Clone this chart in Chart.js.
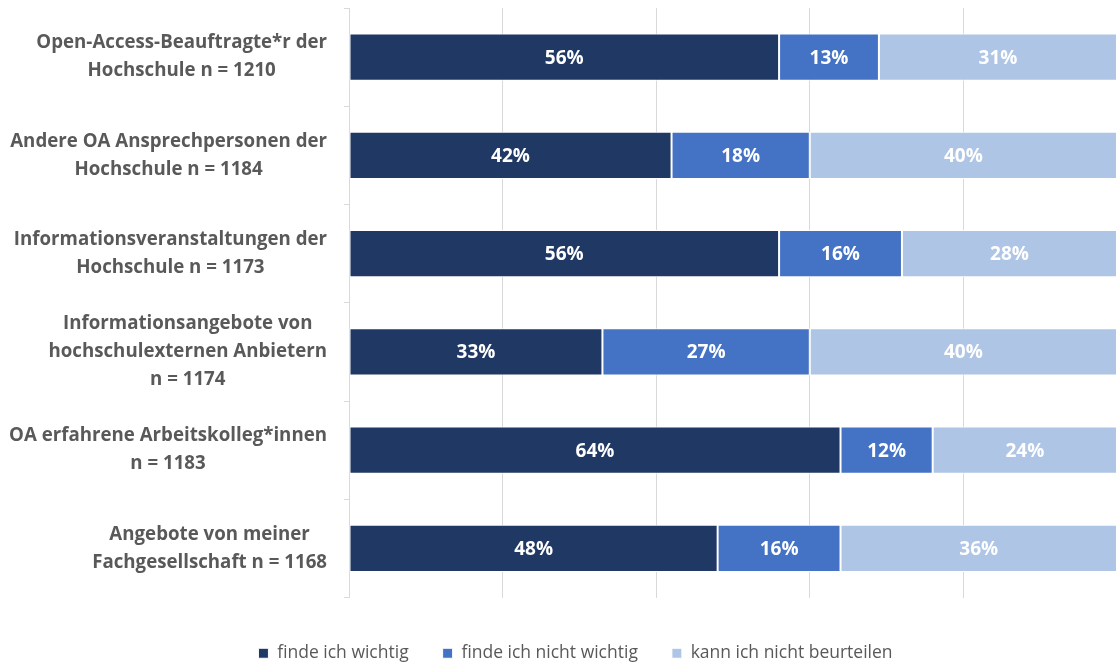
<!DOCTYPE html>
<html>
<head>
<meta charset="utf-8">
<script src="https://cdn.jsdelivr.net/npm/chart.js@4/dist/chart.umd.min.js"></script>
<style>
  html, body { margin: 0; padding: 0; background: #ffffff; }
  #wrap { width: 1117px; height: 663px; position: relative; }
</style>
</head>
<body>
<div id="wrap"><canvas id="c" width="1117" height="663"></canvas></div>
<script>
// Categories (each label split into its display lines)
const categories = [
  ['Open-Access-Beauftragte*r der', 'Hochschule n = 1210'],
  ['Andere OA Ansprechpersonen der', 'Hochschule n = 1184'],
  ['Informationsveranstaltungen der', 'Hochschule n = 1173'],
  ['Informationsangebote von', 'hochschulexternen Anbietern', 'n = 1174'],
  ['OA erfahrene Arbeitskolleg*innen', 'n = 1183'],
  ['Angebote von meiner', 'Fachgesellschaft n = 1168']
];

// Shares in percent
const wichtig = [56, 42, 56, 33, 64, 48];
const nichtWichtig = [13, 18, 16, 27, 12, 16];
const nichtBeurteilen = [31, 40, 28, 40, 24, 36];

const seriesNames = ['finde ich wichtig', 'finde ich nicht wichtig', 'kann ich nicht beurteilen'];

// Percentage axis (gridlines only, no labels)
const xTicks = [0, 20, 40, 60, 80, 100];

const FONT = "'Open Sans', 'DejaVu Sans', sans-serif";
const colors = ['#203864', '#4472C4', '#AEC5E6'];

// Draws the multi-line category labels, each block centred on its widest line
const categoryLabels = {
  id: 'categoryLabels',
  afterDraw(chart) {
    const ctx = chart.ctx;
    const y = chart.scales.y;
    const right = y.right - 22;
    const lineH = 28;
    ctx.save();
    ctx.font = 'bold 18.7px ' + FONT;
    ctx.fillStyle = '#595959';
    ctx.textAlign = 'center';
    ctx.textBaseline = 'middle';
    categories.forEach((lines, i) => {
      const widest = Math.max(...lines.map(l => ctx.measureText(l).width));
      const cx = right - widest / 2;
      const cy = y.getPixelForValue(i);
      const top = cy - (lines.length - 1) * lineH / 2;
      lines.forEach((l, k) => ctx.fillText(l, cx, top + k * lineH));
    });
    ctx.restore();
  }
};

// Value labels in the middle of each bar segment
const valueLabels = {
  id: 'valueLabels',
  afterDatasetsDraw(chart) {
    const ctx = chart.ctx;
    ctx.save();
    ctx.font = 'bold 19px ' + FONT;
    ctx.fillStyle = '#ffffff';
    ctx.textAlign = 'center';
    ctx.textBaseline = 'middle';
    chart.data.datasets.forEach((ds, di) => {
      const meta = chart.getDatasetMeta(di);
      meta.data.forEach((bar, i) => {
        const cx = (bar.x + bar.base) / 2;
        ctx.fillText(ds.data[i] + '%', cx, bar.y + 1);
      });
    });
    ctx.restore();
  }
};

new Chart(document.getElementById('c'), {
  type: 'bar',
  data: {
    labels: categories,
    datasets: [
      { label: seriesNames[0], data: wichtig, backgroundColor: colors[0] },
      { label: seriesNames[1], data: nichtWichtig, backgroundColor: colors[1] },
      { label: seriesNames[2], data: nichtBeurteilen, backgroundColor: colors[2] }
    ].map(d => Object.assign(d, {
      borderColor: '#ffffff',
      borderWidth: 1,
      borderSkipped: false,
      barPercentage: 0.48,
      categoryPercentage: 1
    }))
  },
  options: {
    indexAxis: 'y',
    responsive: false,
    animation: false,
    layout: { padding: { top: 8, right: 0, left: 34, bottom: -9 } },
    scales: {
      x: {
        stacked: true,
        min: xTicks[0],
        max: xTicks[xTicks.length - 1],
        afterBuildTicks(scale) { scale.ticks = xTicks.map(v => ({ value: v })); },
        ticks: { display: false },
        grid: { color: '#D9D9D9', lineWidth: 1, drawTicks: false },
        border: { display: false },
        afterFit(scale) { scale.height = 13; }
      },
      y: {
        stacked: true,
        ticks: { display: false },
        grid: { offset: true, drawOnChartArea: false, drawTicks: true, tickLength: 5, color: '#D9D9D9' },
        border: { display: true, color: '#D9D9D9' },
        afterFit(scale) { scale.width = 315; }
      }
    },
    plugins: {
      legend: {
        position: 'bottom',
        labels: {
          boxWidth: 10,
          boxHeight: 10,
          padding: 34,
          color: '#595959',
          font: { family: FONT, size: 17.5 }
        }
      },
      tooltip: { enabled: false }
    }
  },
  plugins: [categoryLabels, valueLabels]
});
</script>
</body>
</html>
